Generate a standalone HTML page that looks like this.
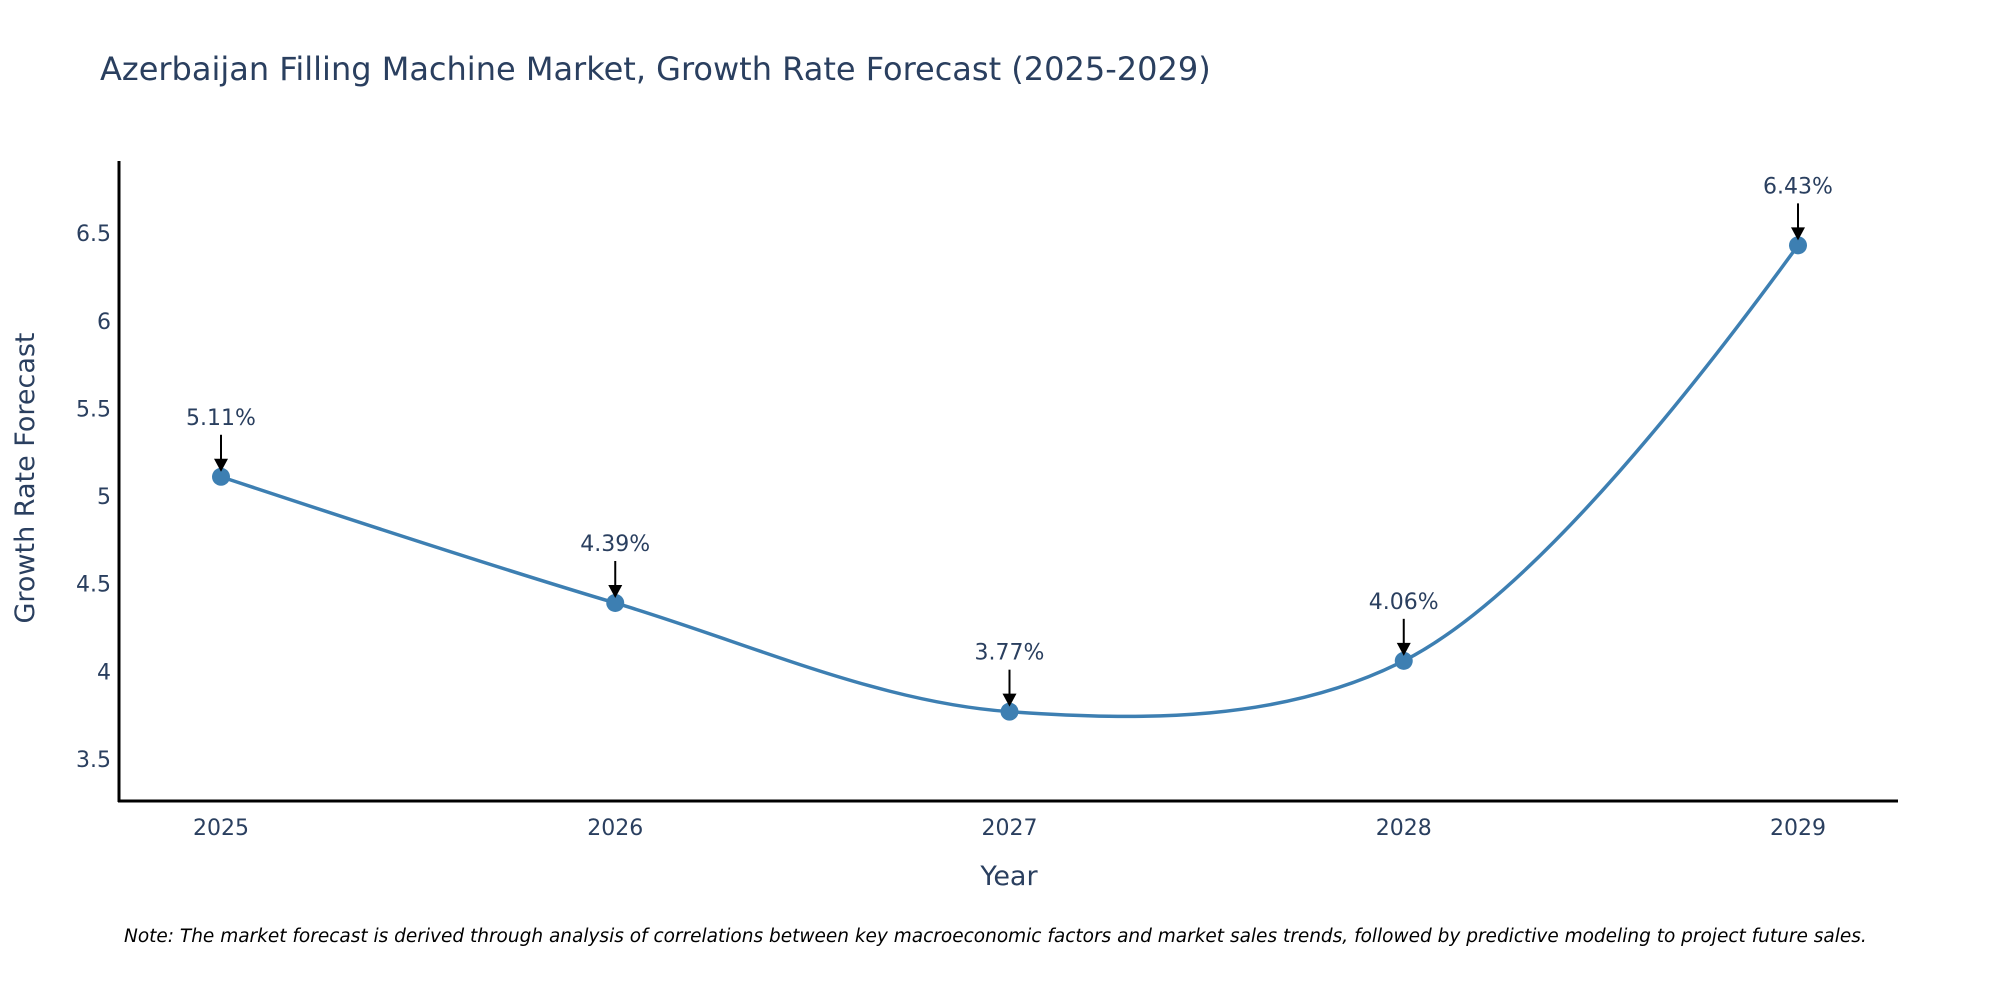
<!DOCTYPE html>
<html><head><meta charset="utf-8"><style>
body{margin:0;background:#fff;}
svg{display:block;font-family:"DejaVu Sans","Liberation Sans",sans-serif;}
</style></head><body>
<svg id="chart" width="2000" height="1000" viewBox="0 0 2000 1000">
<text x="100" y="80" font-size="32" fill="#2a3f5f">Azerbaijan Filling Machine Market, Growth Rate Forecast (2025-2029)</text>
<g id="yticks"></g>
<g id="xticks"></g>
<line x1="119" y1="161" x2="119" y2="802" stroke="#000" stroke-width="3"/>
<line x1="118" y1="801" x2="1898" y2="801" stroke="#000" stroke-width="3"/>
<g id="series"></g>
<text x="34" y="478" font-size="27" fill="#2a3f5f" text-anchor="middle" transform="rotate(-90 34 478)">Growth Rate Forecast</text>
<text x="1009" y="885" font-size="27" fill="#2a3f5f" text-anchor="middle">Year</text>
<text x="124" y="942" font-size="18.5" font-style="italic" fill="#000">Note: The market forecast is derived through analysis of correlations between key macroeconomic factors and market sales trends, followed by predictive modeling to project future sales.</text>
</svg>
<script>
const years = [2025, 2026, 2027, 2028, 2029];
const values = [5.11, 4.39, 3.77, 4.06, 6.43];
const yTickValues = [3.5, 4, 4.5, 5, 5.5, 6, 6.5];
const yTickLabels = ["3.5", "4", "4.5", "5", "5.5", "6", "6.5"];

const NS = "http://www.w3.org/2000/svg";
function xs(yr){ return 221 + (yr - 2025) * 394.25; }
function ys(v){ return 759 - (v - 3.5) * 175.3; }
function mk(tag, attrs, parent){
  const e = document.createElementNS(NS, tag);
  for (const k in attrs) e.setAttribute(k, attrs[k]);
  parent.appendChild(e); return e;
}
const yg = document.getElementById('yticks');
yTickValues.forEach((v,i)=>{
  const t = mk('text', {x:111, y:ys(v)+8, 'font-size':22, fill:'#2a3f5f', 'text-anchor':'end'}, yg);
  
  
  t.textContent = yTickLabels[i];
});
const xg = document.getElementById('xticks');
years.forEach(yr=>{
  const t = mk('text', {x:xs(yr), y:835, 'font-size':22, fill:'#2a3f5f', 'text-anchor':'middle'}, xg);
  
  
  t.textContent = String(yr);
});
const sg = document.getElementById('series');
const pts = years.map((yr,i)=>[xs(yr), ys(values[i])]);
function makeTangent(a, b, c, s){
  const d1x=a[0]-b[0], d1y=a[1]-b[1], d2x=c[0]-b[0], d2y=c[1]-b[1];
  const d1a=Math.pow(d1x*d1x+d1y*d1y,0.25), d2a=Math.pow(d2x*d2x+d2y*d2y,0.25);
  const nx=(d2a*d2a*d1x-d1a*d1a*d2x)*s, ny=(d2a*d2a*d1y-d1a*d1a*d2y)*s;
  const den1=3*d2a*(d1a+d2a), den2=3*d1a*(d1a+d2a);
  return [[b[0]+nx/den1,b[1]+ny/den1],[b[0]-nx/den2,b[1]-ny/den2]];
}
const tg=[];
for(let i=1;i<pts.length-1;i++) tg.push(makeTangent(pts[i-1],pts[i],pts[i+1],1));
const P=p=>p[0]+','+p[1];
let d='M'+P(pts[0])+' Q'+P(tg[0][0])+' '+P(pts[1]);
for(let i=2;i<pts.length-1;i++) d+=' C'+P(tg[i-2][1])+' '+P(tg[i-1][0])+' '+P(pts[i]);
d+=' Q'+P(tg[pts.length-3][1])+' '+P(pts[pts.length-1]);
const line = mk('path', {d:d, fill:'none', stroke:'#3d7fb2', 'stroke-width':3.5}, sg);


pts.forEach((p,i)=>{
  const c = mk('circle', {cx:p[0], cy:p[1], r:9, fill:'#3d7fb2'}, sg);
  
  
  const a = mk('line', {x1:p[0], y1:p[1]-42, x2:p[0], y2:p[1]-14, stroke:'#000', 'stroke-width':2}, sg);
  
  
  const h = mk('polygon', {points:`${p[0]-7},${p[1]-18} ${p[0]+7},${p[1]-18} ${p[0]},${p[1]-5}`, fill:'#000'}, sg);
  
  
  const t = mk('text', {x:p[0], y:p[1]-52, 'font-size':22, fill:'#2a3f5f', 'text-anchor':'middle'}, sg);
  
  
  t.textContent = values[i].toFixed(2) + '%';
});
</script>
</body></html>
